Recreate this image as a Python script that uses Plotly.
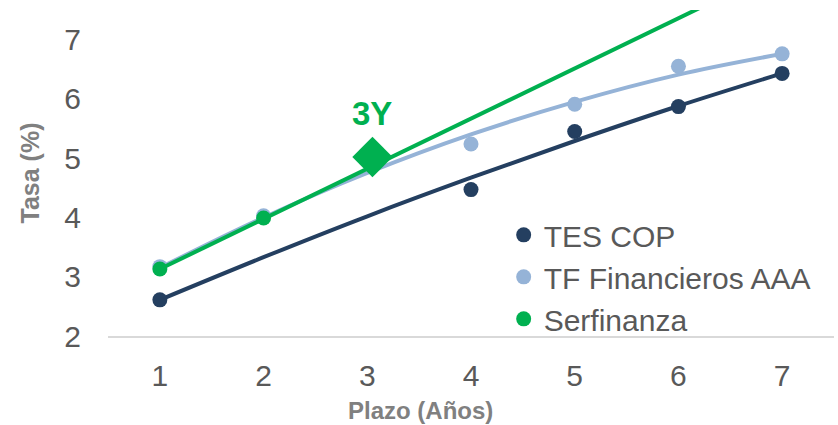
import plotly.graph_objects as go

# ---- data ----
plazo = [1, 2, 3, 4, 5, 6, 7]

tes_x = [1, 4, 5, 6, 7]
tes_y = [2.61, 4.47, 5.45, 5.87, 6.43]
tes_trend = [2.61, 3.33, 4.02, 4.67, 5.29, 5.88, 6.43]

tf_x = [1, 2, 4, 5, 6, 7]
tf_y = [3.17, 4.03, 5.24, 5.91, 6.55, 6.76]
tf_trend = [3.15, 4.00, 4.75, 5.40, 5.95, 6.41, 6.76]

serf_x = [1, 2]
serf_y = [3.13, 3.99]
serf_trend_x = [1, 7.5]
serf_trend_y = [3.13, 8.63]

point_x = [3.05]
point_y = [5.02]
point_label = "3Y"

x_ticks = [1, 2, 3, 4, 5, 6, 7]
y_ticks = [2, 3, 4, 5, 6, 7]

# ---- styles ----
NAVY = "#243F60"
LIGHT = "#95B3D7"
GREEN = "#00B050"
TXT = "#595959"
TITLE = "#808080"
FONT = "Liberation Sans, Arial, sans-serif"

fig = go.Figure()

fig.add_trace(go.Scatter(x=plazo, y=tes_trend, mode="lines", line=dict(color=NAVY, width=4, shape="spline"),
                         showlegend=False, hoverinfo="skip"))
fig.add_trace(go.Scatter(x=tes_x, y=tes_y, mode="markers", name="TES COP",
                         marker=dict(color=NAVY, size=15)))
fig.add_trace(go.Scatter(x=plazo, y=tf_trend, mode="lines", line=dict(color=LIGHT, width=4, shape="spline"),
                         showlegend=False, hoverinfo="skip"))
fig.add_trace(go.Scatter(x=tf_x, y=tf_y, mode="markers", name="TF Financieros AAA",
                         marker=dict(color=LIGHT, size=15)))
fig.add_trace(go.Scatter(x=serf_trend_x, y=serf_trend_y, mode="lines", line=dict(color=GREEN, width=4),
                         showlegend=False, hoverinfo="skip"))
fig.add_trace(go.Scatter(x=serf_x, y=serf_y, mode="markers", name="Serfinanza",
                         marker=dict(color=GREEN, size=15)))
fig.add_trace(go.Scatter(x=point_x, y=point_y, mode="markers", showlegend=False,
                         marker=dict(color=GREEN, size=31, symbol="diamond")))

fig.add_annotation(x=point_x[0], y=point_y[0], text="<b>" + point_label + "</b>", showarrow=False,
                   yshift=44, font=dict(family=FONT, size=33, color=GREEN))
fig.add_annotation(xref="paper", yref="paper", x=0.431, y=-0.23, text="<b>Plazo (Años)</b>",
                   showarrow=False, font=dict(family=FONT, size=24, color=TITLE), yanchor="middle")

fig.update_layout(
    width=838, height=425,
    margin=dict(l=108, r=4, t=10, b=89),
    paper_bgcolor="white", plot_bgcolor="white",
    font=dict(family=FONT, size=30, color=TXT),
    showlegend=True,
    legend=dict(x=0.545, y=0.39, xanchor="left", yanchor="top", bgcolor="rgba(0,0,0,0)",
                font=dict(family=FONT, size=30, color=TXT), itemwidth=30),
    xaxis=dict(range=[0.5, 7.5], tickvals=x_ticks, showgrid=False, zeroline=False,
               showline=True, linecolor="#D9D9D9", linewidth=1.5, ticks="",
               ticklabelstandoff=12, tickfont=dict(size=30, color=TXT)),
    yaxis=dict(range=[2, 7.5], tickvals=y_ticks, showgrid=False, zeroline=False,
               showline=False, ticks="", ticklabelstandoff=26, tickfont=dict(size=30, color=TXT),
               title=dict(text="<b>Tasa (%)</b>", font=dict(family=FONT, size=25, color=TITLE), standoff=17)),
)

fig.write_html("out.html")
